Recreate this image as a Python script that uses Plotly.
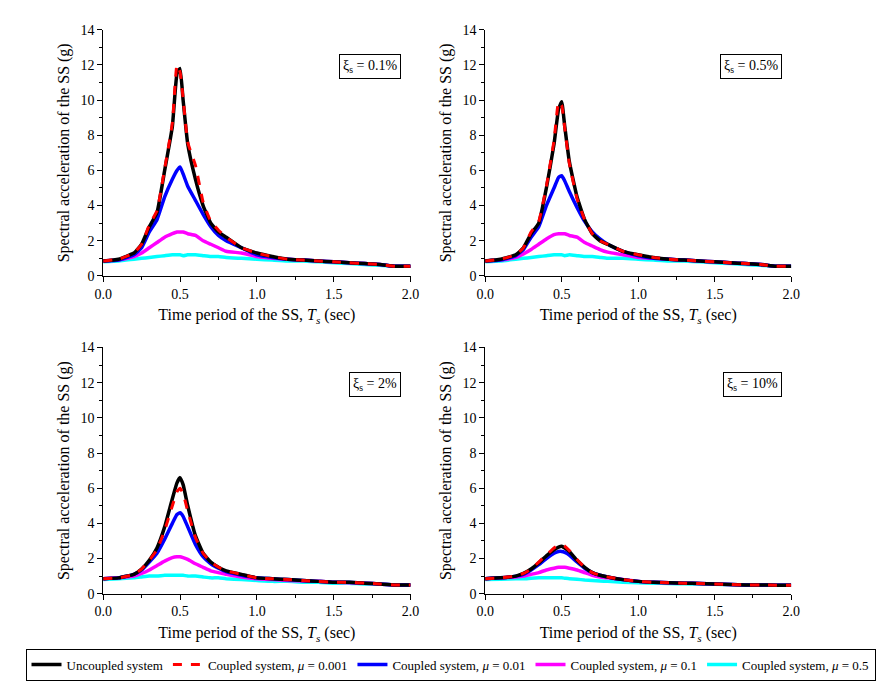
import plotly.graph_objects as go
from plotly.subplots import make_subplots

T = [0, 0.1, 0.2, 0.25, 0.3, 0.35, 0.4, 0.45, 0.48, 0.5, 0.52, 0.55, 0.6, 0.65, 0.7,
     0.75, 0.8, 0.9, 1.0, 1.1, 1.2, 1.3, 1.4, 1.5, 1.6, 1.7, 1.8, 1.9, 2.0]

tail = [0.95, 0.9, 0.85, 0.8, 0.75, 0.7, 0.65, 0.55, 0.55]

# panel 1: xi = 0.1%
p1_unc = [0.85, 0.95, 1.3, 1.8, 2.8, 3.6, 6.0, 8.5, 11.5, 11.8, 10.0, 7.5, 5.5, 4.0, 3.0, 2.5, 2.2, 1.6, 1.3, 1.1] + tail
p1_m001 = [0.85, 0.95, 1.3, 1.8, 2.9, 3.7, 6.1, 8.7, 12.0, 11.6, 10.1, 7.6, 6.3, 4.2, 3.1, 2.6, 2.2, 1.6, 1.3, 1.1] + tail
p1_m01 = [0.85, 0.9, 1.2, 1.6, 2.5, 3.2, 4.5, 5.5, 6.0, 6.2, 5.8, 5.1, 4.3, 3.5, 2.8, 2.3, 2.0, 1.6, 1.2, 1.05] + tail
p1_m1 = [0.85, 0.9, 1.1, 1.3, 1.6, 1.9, 2.2, 2.4, 2.5, 2.5, 2.5, 2.4, 2.3, 2.0, 1.8, 1.6, 1.4, 1.3, 1.1, 1.0] + tail
p1_m5 = [0.8, 0.85, 0.95, 1.0, 1.05, 1.1, 1.15, 1.2, 1.2, 1.2, 1.15, 1.2, 1.2, 1.15, 1.1, 1.1, 1.05, 1.0, 0.95, 0.9,
         0.85, 0.85, 0.8, 0.75, 0.7, 0.65, 0.6, 0.55, 0.55]

# panel 2: xi = 0.5%
p2_unc = [0.85, 0.95, 1.2, 1.6, 2.4, 3.0, 5.0, 7.5, 9.5, 9.9, 8.5, 6.5, 4.5, 3.2, 2.4, 2.0, 1.8, 1.4, 1.2, 1.05] + tail
p2_m001 = [0.85, 0.95, 1.2, 1.6, 2.5, 3.1, 5.1, 7.7, 9.9, 9.7, 8.4, 6.4, 4.4, 3.2, 2.4, 2.0, 1.8, 1.4, 1.2, 1.05] + tail
p2_m01 = [0.85, 0.9, 1.15, 1.5, 2.2, 2.8, 4.0, 5.0, 5.6, 5.7, 5.4, 4.8, 3.9, 3.1, 2.5, 2.1, 1.8, 1.4, 1.15, 1.0] + tail
p2_m1 = [0.85, 0.9, 1.05, 1.25, 1.5, 1.8, 2.1, 2.35, 2.4, 2.4, 2.4, 2.3, 2.2, 1.9, 1.7, 1.5, 1.35, 1.2, 1.05, 1.0] + tail
p2_m5 = [0.8, 0.85, 0.95, 1.0, 1.05, 1.1, 1.15, 1.2, 1.2, 1.2, 1.15, 1.2, 1.15, 1.1, 1.1, 1.05, 1.0, 1.0, 0.95, 0.9,
         0.85, 0.85, 0.8, 0.75, 0.7, 0.65, 0.6, 0.55, 0.55]

# panel 3: xi = 2%
p3_unc = [0.85, 0.9, 1.1, 1.4, 1.9, 2.6, 3.8, 5.4, 6.3, 6.6, 6.2, 5.0, 3.3, 2.3, 1.8, 1.5, 1.3, 1.1, 0.9, 0.85,
          0.8, 0.75, 0.7, 0.65, 0.65, 0.6, 0.55, 0.5, 0.5]
p3_m001 = [0.85, 0.9, 1.1, 1.4, 1.9, 2.5, 3.6, 5.0, 5.8, 6.0, 5.7, 4.7, 3.2, 2.3, 1.8, 1.5, 1.3, 1.1, 0.9, 0.85,
           0.8, 0.75, 0.7, 0.65, 0.65, 0.6, 0.55, 0.5, 0.5]
p3_m01 = [0.85, 0.9, 1.1, 1.35, 1.8, 2.3, 3.1, 4.0, 4.5, 4.6, 4.4, 3.8, 2.8, 2.1, 1.7, 1.45, 1.25, 1.05, 0.9, 0.85,
          0.8, 0.75, 0.7, 0.65, 0.65, 0.6, 0.55, 0.5, 0.5]
p3_m1 = [0.85, 0.9, 1.0, 1.15, 1.35, 1.6, 1.85, 2.05, 2.1, 2.1, 2.05, 1.95, 1.7, 1.5, 1.3, 1.2, 1.1, 0.95, 0.85, 0.8,
         0.75, 0.72, 0.7, 0.65, 0.62, 0.6, 0.55, 0.5, 0.5]
p3_m5 = [0.8, 0.85, 0.9, 0.95, 1.0, 1.0, 1.05, 1.05, 1.05, 1.05, 1.05, 1.0, 1.0, 0.95, 0.9, 0.9, 0.85, 0.8, 0.75, 0.7,
         0.7, 0.65, 0.65, 0.6, 0.6, 0.55, 0.55, 0.5, 0.5]

# panel 4: xi = 10%
p4_unc = [0.85, 0.9, 1.0, 1.15, 1.4, 1.75, 2.15, 2.5, 2.65, 2.7, 2.6, 2.4, 1.9, 1.5, 1.2, 1.05, 0.95, 0.8, 0.7, 0.65,
          0.62, 0.6, 0.58, 0.55, 0.52, 0.5, 0.5, 0.48, 0.48]
p4_m001 = [0.85, 0.9, 1.0, 1.15, 1.4, 1.8, 2.2, 2.6, 2.75, 2.8, 2.7, 2.45, 1.95, 1.5, 1.2, 1.05, 0.95, 0.8, 0.7, 0.65,
           0.62, 0.6, 0.58, 0.55, 0.52, 0.5, 0.5, 0.48, 0.48]
p4_m01 = [0.85, 0.9, 1.0, 1.1, 1.35, 1.65, 2.0, 2.3, 2.4, 2.4, 2.35, 2.2, 1.8, 1.45, 1.2, 1.05, 0.95, 0.8, 0.7, 0.65,
          0.62, 0.6, 0.58, 0.55, 0.52, 0.5, 0.5, 0.48, 0.48]
p4_m1 = [0.85, 0.9, 0.95, 1.0, 1.1, 1.2, 1.35, 1.45, 1.5, 1.5, 1.5, 1.45, 1.35, 1.2, 1.05, 0.95, 0.9, 0.8, 0.7, 0.65,
         0.62, 0.6, 0.58, 0.55, 0.52, 0.5, 0.5, 0.48, 0.48]
p4_m5 = [0.8, 0.82, 0.85, 0.85, 0.88, 0.9, 0.9, 0.9, 0.9, 0.9, 0.88, 0.85, 0.82, 0.78, 0.75, 0.72, 0.7, 0.65, 0.62, 0.6,
         0.58, 0.56, 0.55, 0.53, 0.52, 0.5, 0.5, 0.48, 0.48]

panels = [
    ("0.1%", [p1_unc, p1_m001, p1_m01, p1_m1, p1_m5]),
    ("0.5%", [p2_unc, p2_m001, p2_m01, p2_m1, p2_m5]),
    ("2%", [p3_unc, p3_m001, p3_m01, p3_m1, p3_m5]),
    ("10%", [p4_unc, p4_m001, p4_m01, p4_m1, p4_m5]),
]
names = ["Uncoupled system", "Coupled system, <i>μ</i> = 0.001", "Coupled system, <i>μ</i> = 0.01",
         "Coupled system, <i>μ</i> = 0.1", "Coupled system, <i>μ</i> = 0.5"]
colors = ["black", "red", "blue", "magenta", "cyan"]
# draw order: cyan, magenta, blue, black, red dashed on top
order = [4, 3, 2, 0, 1]

FONT = "Liberation Serif"
fig = make_subplots(rows=2, cols=2)
xdom = [[0.0994, 0.454], [0.540, 0.893]]
ydom = [[0.610, 0.978], [0.135, 0.503]]

for i, (xi, series) in enumerate(panels):
    r, c = i // 2 + 1, i % 2 + 1
    for k in order:
        fig.add_trace(go.Scatter(
            x=T, y=series[k], mode="lines", name=names[k], legendrank=k,
            line=dict(color=colors[k], width=3.5 if k != 1 else 3, dash="dash" if k == 1 else "solid",
                      shape="spline", smoothing=0.4),
            showlegend=(i == 0)), row=r, col=c)
    ax = "" if i == 0 else str(i + 1)
    fig.update_xaxes(domain=xdom[c - 1], row=r, col=c)
    fig.update_yaxes(domain=ydom[r - 1], row=r, col=c)
    fig.add_annotation(xref=f"x{ax} domain", yref=f"y{ax} domain", x=0.97, y=0.9,
                       text=f"ξ<sub>s</sub> = {xi}", showarrow=False, xanchor="right",
                       bordercolor="black", borderwidth=1, borderpad=3, bgcolor="white",
                       font=dict(family=FONT, size=14, color="black"))

fig.update_xaxes(range=[0, 2], dtick=0.5, tickformat=".1f", showline=True, linecolor="black",
                 ticks="outside", tickcolor="black", ticklen=5, showgrid=False, zeroline=False,
                 minor=dict(ticks="outside", ticklen=3, dtick=0.25, tickcolor="black"),
                 title=dict(text="Time period of the SS, <i>T<sub>s</sub></i> (sec)", standoff=8,
                            font=dict(family=FONT, size=16, color="black")),
                 tickfont=dict(family=FONT, size=14, color="black"))
fig.update_yaxes(range=[0, 14], dtick=2, showline=True, linecolor="black",
                 ticks="outside", tickcolor="black", ticklen=5, showgrid=False, zeroline=False,
                 minor=dict(ticks="outside", ticklen=3, dtick=1, tickcolor="black"),
                 title=dict(text="Spectral acceleration of the SS (g)", standoff=6,
                            font=dict(family=FONT, size=16, color="black")),
                 tickfont=dict(family=FONT, size=14, color="black"))

fig.update_layout(
    width=885, height=684, plot_bgcolor="white", paper_bgcolor="white",
    margin=dict(l=0, r=0, t=0, b=0),
    legend=dict(orientation="h", x=0.5, xanchor="center", y=0.005, yanchor="bottom",
                bordercolor="black", borderwidth=1, traceorder="normal",
                font=dict(family=FONT, size=13, color="black"), itemwidth=30),
)
fig.write_html("out.html")
